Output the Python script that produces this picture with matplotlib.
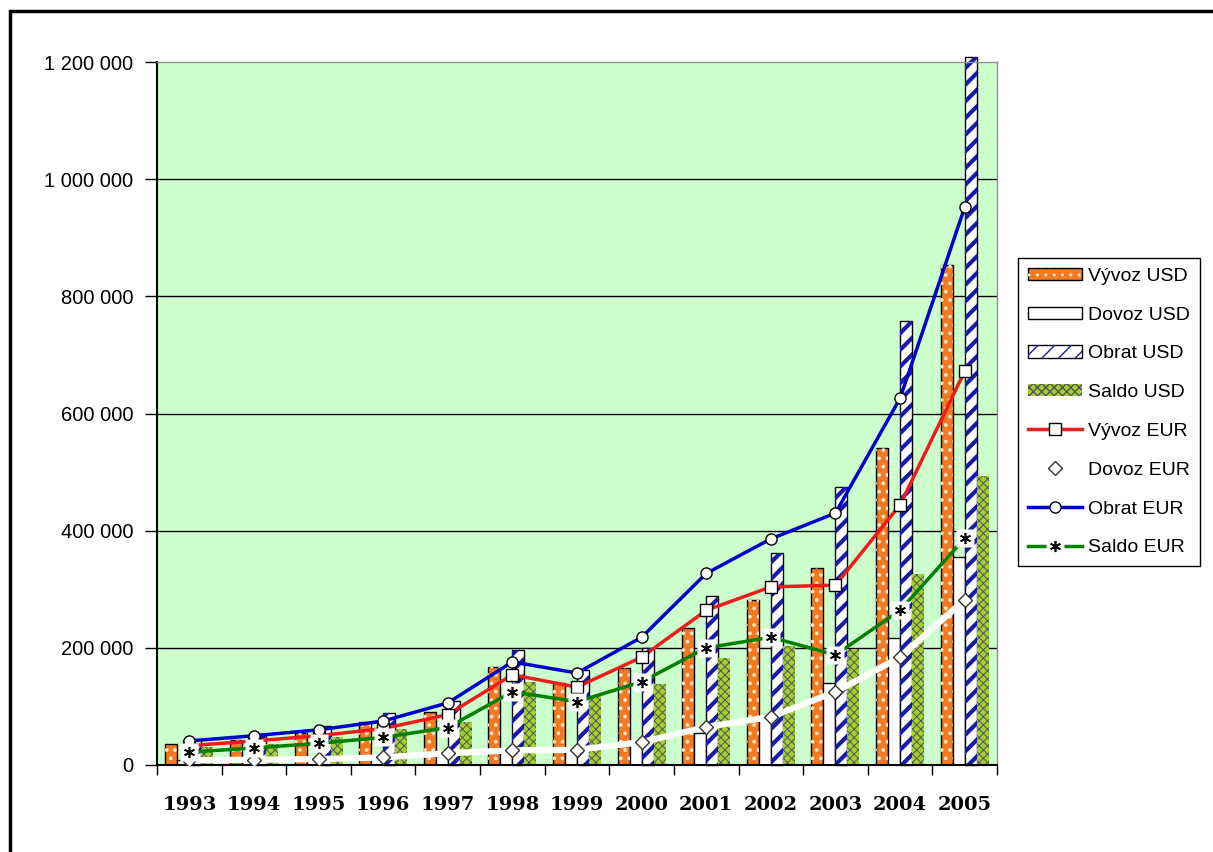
import matplotlib.pyplot as plt
import numpy as np
from matplotlib.ticker import FuncFormatter
from matplotlib.legend_handler import HandlerTuple
from matplotlib.patches import Rectangle

# data (thousands)
years = ['1993', '1994', '1995', '1996', '1997', '1998', '1999',
         '2000', '2001', '2002', '2003', '2004', '2005']

vyvoz_usd = [36, 43, 55, 73, 90, 167, 140, 166, 234, 282, 336, 541, 853]
dovoz_usd = [8, 10, 12, 15, 20, 25, 26, 36, 55, 80, 140, 217, 355]
obrat_usd = [44, 53, 67, 88, 110, 196, 163, 200, 288, 362, 474, 758, 1208]
saldo_usd = [30, 36, 47, 62, 73, 141, 117, 138, 182, 203, 198, 326, 494]

vyvoz_eur = [33, 41, 50, 62, 86, 154, 133, 184, 264, 304, 307, 444, 672]
dovoz_eur = [8, 9, 10, 13, 20, 25, 26, 39, 65, 82, 125, 184, 282]
obrat_eur = [41, 50, 60, 75, 106, 176, 157, 218, 327, 386, 430, 626, 952]
saldo_eur = [22, 29, 37, 47, 64, 125, 108, 142, 200, 218, 188, 264, 387]

def k(v):
    return [a * 1000 for a in v]

plt.rcParams['font.family'] = ['Liberation Sans', 'DejaVu Sans']

fig = plt.figure(figsize=(12.13, 8.52), dpi=100)
ax = fig.add_axes([157 / 1213, 1 - 765 / 852, 840 / 1213, 703 / 852])
ax.set_facecolor('#ccffcc')

x = np.arange(len(years))
w = 0.186

# bars: base fill + hatch overlay
with plt.rc_context({'hatch.linewidth': 1.5}):
    b1 = ax.bar(x - 1.5 * w, k(vyvoz_usd), w, color='#f27a22', edgecolor='black', lw=1, zorder=2)
    b1h = ax.bar(x - 1.5 * w, k(vyvoz_usd), w, facecolor='none', edgecolor='#ffe6c0', hatch='..', lw=0, zorder=2.1)

b2 = ax.bar(x - 0.5 * w, k(dovoz_usd), w, color='white', edgecolor='black', lw=1, zorder=2)

with plt.rc_context({'hatch.linewidth': 3.0}):
    b3 = ax.bar(x + 0.5 * w, k(obrat_usd), w, color='white', edgecolor='black', lw=1, zorder=2, clip_on=False)
    b3h = ax.bar(x + 0.5 * w, k(obrat_usd), w, facecolor='none', edgecolor='#1a1aa8', hatch='//', lw=0, zorder=2.1, clip_on=False)

with plt.rc_context({'hatch.linewidth': 0.7}):
    b4 = ax.bar(x + 1.5 * w, k(saldo_usd), w, color='#a2d030', edgecolor='none', lw=0, zorder=2)
    b4h = ax.bar(x + 1.5 * w, k(saldo_usd), w, facecolor='none', edgecolor='#555555', hatch='xxxx', lw=0, zorder=2.1)

# lines
l_dov, = ax.plot(x, k(dovoz_eur), color='white', lw=4.5, marker='D', ms=7,
                 mfc='white', mec='#333333', mew=1, zorder=3)
l_vyv, = ax.plot(x, k(vyvoz_eur), color='#ee1c1c', lw=2.5, marker='s', ms=9,
                 mfc='white', mec='black', mew=1, zorder=4)
l_obr, = ax.plot(x, k(obrat_eur), color='#0000cc', lw=2.5, marker='o', ms=8,
                 mfc='white', mec='black', mew=1, zorder=4)
l_sal, = ax.plot(x, k(saldo_eur), color='#008000', lw=2.5, marker='s', ms=13,
                 mfc='white', mec='none', zorder=4)
l_sal2, = ax.plot(x, k(saldo_eur), ls='none', marker=(6, 2, 0), ms=8,
                  color='black', mew=1.2, zorder=5)

# axes styling
ax.set_xlim(-0.5, len(years) - 0.5)
ax.set_ylim(0, 1200000)
ax.set_yticks(np.arange(0, 1200001, 200000))
ax.yaxis.set_major_formatter(FuncFormatter(lambda v, p: '{:,}'.format(int(v)).replace(',', ' ')))
ax.tick_params(axis='y', direction='out', length=9, width=1, pad=8, labelsize=14.5)
for yv in range(200000, 1200000, 200000):
    ax.axhline(yv, color='black', lw=1, zorder=1)

ax.set_xticks(x, labels=years)
ax.set_xticks(np.arange(-0.5, len(years)), minor=True)
ax.tick_params(axis='x', which='major', length=0, pad=22)
ax.tick_params(axis='x', which='minor', direction='out', length=7, width=1)
for lab in ax.get_xticklabels():
    lab.set_fontfamily('DejaVu Serif')
    lab.set_fontweight('bold')
    lab.set_fontsize(14)

for s in ['top', 'right']:
    ax.spines[s].set_color('#909090')
    ax.spines[s].set_linewidth(1)
for s in ['left', 'bottom']:
    ax.spines[s].set_color('black')
    ax.spines[s].set_linewidth(1.5)

# legend
handles = [(b1[0], b1h[0]), b2[0], (b3[0], b3h[0]), (b4[0], b4h[0]),
           l_vyv, l_dov, l_obr, (l_sal, l_sal2)]
labels = ['Vývoz USD', 'Dovoz USD', 'Obrat USD', 'Saldo USD',
          'Vývoz EUR', 'Dovoz EUR', 'Obrat EUR', 'Saldo EUR']
leg = fig.legend(handles, labels, loc='upper left', bbox_to_anchor=(1018 / 1213, 1 - 258 / 852),
                 handler_map={tuple: HandlerTuple(ndivide=1)}, fontsize=14,
                 frameon=True, fancybox=False, framealpha=1, edgecolor='black',
                 handlelength=2.8, handleheight=0.6, handletextpad=0.3,
                 labelspacing=1.12, borderpad=0.5, borderaxespad=0)
leg.get_frame().set_linewidth(1)

# outer chart frame
fig.patches.append(Rectangle((10 / 1213, -0.1), 1.2, 1 - 11 / 852 + 0.1,
                             transform=fig.transFigure, fill=False, lw=2.5, ec='black'))

fig.savefig('out.png', dpi=100)
